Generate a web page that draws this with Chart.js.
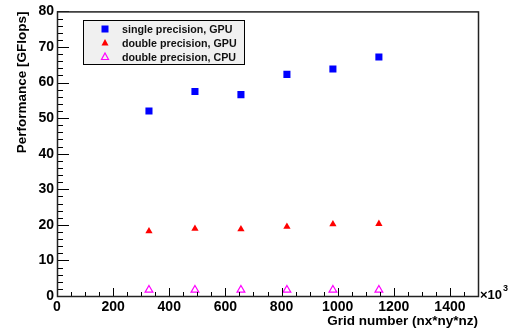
<!DOCTYPE html>
<html>
<head>
<meta charset="utf-8">
<script src="https://cdn.jsdelivr.net/npm/chart.js@4"></script>
<style>
  html, body { margin: 0; padding: 0; background: #fff; }
  #wrap { width: 512px; height: 329px; }
</style>
</head>
<body>
<div id="wrap"><canvas id="perf"></canvas></div>
<script>
// grid sizes in units of 10^3
const gridNumbers = [327.68, 491.52, 655.36, 819.2, 983.04, 1146.88];
const singleGpu   = [52.0, 57.5, 56.6, 62.3, 63.8, 67.2];
const doubleGpu   = [18.2, 18.9, 18.8, 19.5, 20.2, 20.3];
const doubleCpu   = [1.7, 1.7, 1.7, 1.7, 1.7, 1.7];
const seriesNames = ['single precision, GPU', 'double precision, GPU', 'double precision, CPU'];
const xTickLabels = [0, 200, 400, 600, 800, 1000, 1200, 1400];
const yTickLabels = [0, 10, 20, 30, 40, 50, 60, 70, 80];

const FONT = "'Liberation Sans', Arial, Helvetica, sans-serif";
const pts = ys => gridNumbers.map((x, i) => ({ x, y: ys[i] }));

// ── ROOT-like frame: inward ticks, box, legend, x10^3 ──────
const rootFrame = {
    id: 'rootFrame',
    afterDatasetsDraw(chart) {
        const { ctx, chartArea: a, scales: { x, y } } = chart;
        ctx.save();
        ctx.strokeStyle = '#000';
        ctx.lineWidth = 1;
        ctx.beginPath();
        for (let v = 0; v <= 1500; v += 50) {
            const px = Math.round(x.getPixelForValue(v)) + 0.5;
            const len = v % 200 === 0 ? 8 : 4;
            ctx.moveTo(px, a.bottom);
            ctx.lineTo(px, a.bottom - len);
        }
        for (let v = 0; v <= 80; v += 2) {
            const py = Math.round(y.getPixelForValue(v)) + 0.5;
            const len = v % 10 === 0 ? 12 : 6;
            ctx.moveTo(a.left, py);
            ctx.lineTo(a.left + len, py);
        }
        ctx.stroke();

        // frame
        ctx.strokeStyle = '#222';
        ctx.lineWidth = 1.5;
        ctx.strokeRect(a.left + 0.5, a.top + 0.5, a.right - a.left, a.bottom - a.top);

        // exponent label
        ctx.fillStyle = '#000';
        ctx.font = `bold 13px ${FONT}`;
        ctx.textBaseline = 'alphabetic';
        ctx.fillText('\u00d710', a.right + 2, a.bottom + 3);
        ctx.font = `bold 9px ${FONT}`;
        ctx.fillText('3', a.right + 25, a.bottom - 5);

        // legend
        const lx = 83, ly = 20, lw = 161, lh = 44;
        ctx.fillStyle = '#f0f0f0';
        ctx.fillRect(lx, ly, lw, lh);
        ctx.strokeStyle = '#000';
        ctx.lineWidth = 1;
        ctx.strokeRect(lx + 0.5, ly + 0.5, lw, lh);
        ctx.font = `bold 10.7px ${FONT}`;
        ctx.textBaseline = 'middle';
        chart.data.datasets.forEach((ds, i) => {
            const cy = ly + 9 + i * 14;
            const cx = 105;
            ctx.beginPath();
            if (ds.pointStyle === 'rect') {
                ctx.fillStyle = ds.backgroundColor;
                ctx.fillRect(cx - 3.5, cy - 3.5, 7, 7);
            } else {
                ctx.moveTo(cx, cy - 4);
                ctx.lineTo(cx + 3.5, cy + 2.5);
                ctx.lineTo(cx - 3.5, cy + 2.5);
                ctx.closePath();
                if (ds.backgroundColor !== 'transparent') {
                    ctx.fillStyle = ds.backgroundColor;
                    ctx.fill();
                } else {
                    ctx.strokeStyle = ds.borderColor;
                    ctx.lineWidth = 1.2;
                    ctx.stroke();
                }
            }
            ctx.fillStyle = '#111';
            ctx.fillText(ds.label, 122, cy + 1);
        });
        ctx.restore();
    },
};

new Chart(document.getElementById('perf'), {
    type: 'scatter',
    data: {
        datasets: [
            {
                label: seriesNames[0], data: pts(singleGpu),
                pointStyle: 'rect', pointRadius: 5, pointHoverRadius: 5,
                backgroundColor: '#0000ff', borderColor: '#0000ff', borderWidth: 0,
            },
            {
                label: seriesNames[1], data: pts(doubleGpu),
                pointStyle: 'triangle', pointRadius: 4.2, pointHoverRadius: 4.2,
                backgroundColor: '#ff0000', borderColor: '#ff0000', borderWidth: 0,
            },
            {
                label: seriesNames[2], data: pts(doubleCpu),
                pointStyle: 'triangle', pointRadius: 4.5, pointHoverRadius: 4.5,
                backgroundColor: 'transparent', borderColor: '#ff00ff', borderWidth: 1.2,
            },
        ],
    },
    options: {
        responsive: true,
        maintainAspectRatio: false,
        animation: false,
        layout: { padding: { left: 10, top: 11, right: 34, bottom: 0 } },
        plugins: { legend: { display: false }, tooltip: { enabled: false } },
        scales: {
            x: {
                type: 'linear', min: 0, max: 1500,
                grid: { display: false, drawTicks: false },
                border: { display: false },
                ticks: {
                    padding: 3, color: '#000',
                    font: { family: FONT, size: 14, weight: 'bold' },
                    maxRotation: 0, autoSkip: false,
                    callback: v => String(v),
                },
                afterBuildTicks: s => { s.ticks = xTickLabels.map(value => ({ value })); },
                title: {
                    display: true, text: 'Grid number (nx*ny*nz)', align: 'end',
                    color: '#000', padding: { top: 0, bottom: 0 },
                    font: { family: FONT, size: 13.5, weight: 'bold' },
                },
                afterFit: s => { s.height = 33; },
            },
            y: {
                min: 0, max: 80,
                grid: { display: false, drawTicks: false },
                border: { display: false },
                ticks: {
                    padding: 3, color: '#000',
                    font: { family: FONT, size: 14, weight: 'bold' },
                },
                afterBuildTicks: s => { s.ticks = yTickLabels.map(value => ({ value })); },
                title: {
                    display: true, text: 'Performance [GFlops]', align: 'end',
                    color: '#000', padding: { top: 4, bottom: 0 },
                    font: { family: FONT, size: 13.5, weight: 'bold' },
                },
                afterFit: s => { s.width = 47; },
            },
        },
    },
    plugins: [rootFrame],
});
</script>
</body>
</html>
